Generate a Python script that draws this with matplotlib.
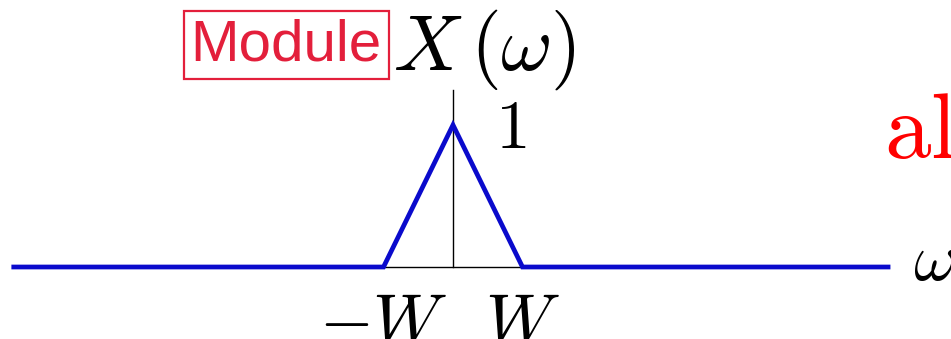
import numpy as np
import matplotlib
matplotlib.use('Agg')
import matplotlib.pyplot as plt

plt.rcParams['mathtext.fontset'] = 'cm'

# Triangular spectrum X(w), frequencies in units of W
freq = [-6.32, -1.0, 0.0, 1.0, 6.26]
mag = [0.0, 0.0, 1.0, 0.0, 0.0]
tick_pos = [-1.0, 1.0]
tick_labels = [r'$-W$', r'$W$']

fig = plt.figure(figsize=(9.51, 3.39), dpi=100)
ax = fig.add_axes([0, 0, 1, 1])
ax.set_xlim(-453 / 69.5, (951 - 453) / 69.5)
ax.set_ylim(-(339 - 267) / 142, 267 / 142)
ax.axis('off')

# axes
ax.plot([freq[0], freq[-1]], [0, 0], color='black', lw=1.0, zorder=1)
ax.plot([0, 0], [0, 1.246], color='black', lw=1.0, zorder=1)

# spectrum
ax.plot(freq, mag, color='#0a0acc', lw=3.4, solid_joinstyle='miter', zorder=2)

for p, lab in zip(tick_pos, tick_labels):
    ax.text(p, -0.155, lab, ha='center', va='top', fontsize=50)

ax.text(0.60, 0.838, r'$1$', ha='left', va='baseline', fontsize=50)
ax.text(-0.86, 1.387, r'$X\,(\omega)$', ha='left', va='baseline', fontsize=57)
ax.text(6.62, -0.09, r'$\omega$', ha='left', va='baseline', fontsize=48)
ax.text(6.20, 0.768, r'$\mathrm{al}$', ha='left', va='baseline', fontsize=67,
        color='#ff0000')

fig.text(0.301, 0.867, 'Module', ha='center', va='center', fontsize=42,
         family='Liberation Sans', color='#e31f3b',
         bbox=dict(boxstyle='square,pad=0.12', fc='white', ec='#e31f3b', lw=1.6))

fig.savefig('out.png', dpi=100)
